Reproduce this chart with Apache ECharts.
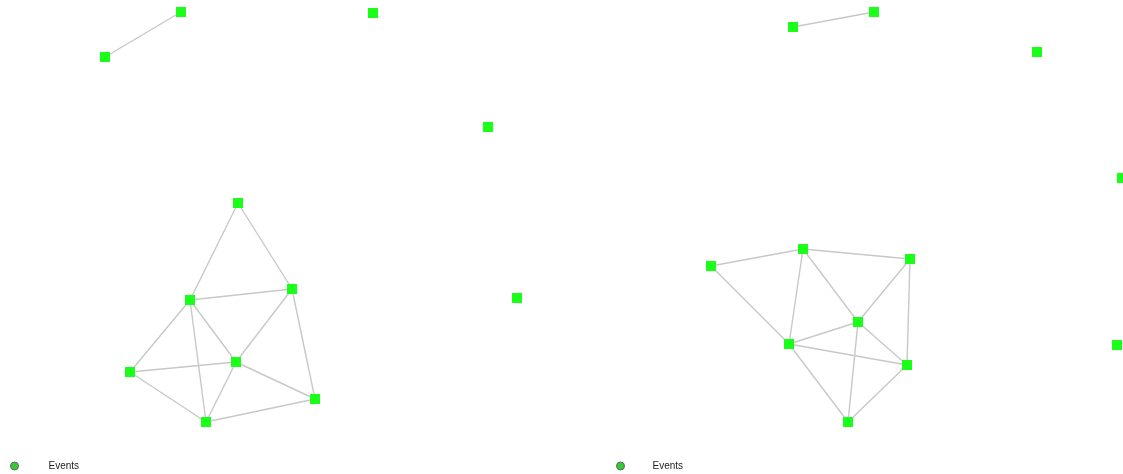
<!DOCTYPE html>
<html>
<head>
<meta charset="utf-8">
<script src="https://cdn.jsdelivr.net/npm/echarts@6/dist/echarts.min.js"></script>
<style>
html,body{margin:0;padding:0;background:#fff;}
#chart{width:1123px;height:474px;}
</style>
</head>
<body>
<div id="chart"></div>
<script>
// Node names (same graph drawn twice)
var nodeNames = ['n0','n1','n2','n3','n4','n5','n6','n7','n8','n9','n10','n11'];
// Edges (source, target)
var edges = [
  ['n0','n1'],['n0','n2'],['n1','n2'],['n1','n3'],['n1','n4'],['n1','n6'],
  ['n2','n4'],['n2','n5'],['n3','n4'],['n3','n6'],['n4','n6'],['n4','n5'],
  ['n5','n6'],
  ['n7','n8']
];
// Layout positions, left panel
var leftX = [238,190,292,130,236,315,206,105,181,373,488,517];
var leftY = [203,300,289,372,362,399,422, 57, 12, 13,127,298];
// Layout positions, right panel
var rightX = [711,789,803,848,858,910,907,793,874,1037,1122,1117];
var rightY = [266,344,249,422,322,259,365, 27, 12,  52, 178, 345];
var legendNames = ['Events'];

function buildNodes(xs, ys) {
  return nodeNames.map(function (n, i) {
    return { name: n, value: [xs[i], ys[i]] };
  });
}
function buildLinks() {
  return edges.map(function (e) { return { source: e[0], target: e[1] }; });
}

var nodeColor = '#19ff19';
var chart = echarts.init(document.getElementById('chart'));
var seriesBase = {
  type: 'graph',
  name: 'Events',
  coordinateSystem: 'cartesian2d',
  symbol: 'rect',
  symbolSize: 10,
  itemStyle: { color: nodeColor },
  lineStyle: { color: '#c8c8c8', width: 1.4, opacity: 1, curveness: 0 },
  label: { show: false },
  emphasis: { disabled: true },
  animation: false
};
var legendBase = {
  data: legendNames, top: 461, padding: 0, itemWidth: 8, itemHeight: 8,
  icon: 'circle', itemStyle: { color: '#33cc33', borderColor: '#666', borderWidth: 1 },
  selectedMode: false
};
chart.setOption({
  animation: false,
  grid: { left: 0, right: 0, top: 0, bottom: 0 },
  xAxis: { type: 'value', min: 0, max: 1123, show: false },
  yAxis: { type: 'value', min: 0, max: 474, inverse: true, show: false },
  legend: [
    Object.assign({}, legendBase, {
      left: 10,
      textStyle: { fontSize: 10, color: '#222', fontFamily: 'Liberation Sans, Arial, sans-serif', padding: [0,0,0,25] }
    }),
    Object.assign({}, legendBase, {
      left: 616,
      textStyle: { fontSize: 10, color: '#222', fontFamily: 'Liberation Sans, Arial, sans-serif', padding: [0,0,0,23] }
    })
  ],
  series: [
    Object.assign({}, seriesBase, { data: buildNodes(leftX, leftY), links: buildLinks() }),
    Object.assign({}, seriesBase, { data: buildNodes(rightX, rightY), links: buildLinks() })
  ]
});
</script>
</body>
</html>
